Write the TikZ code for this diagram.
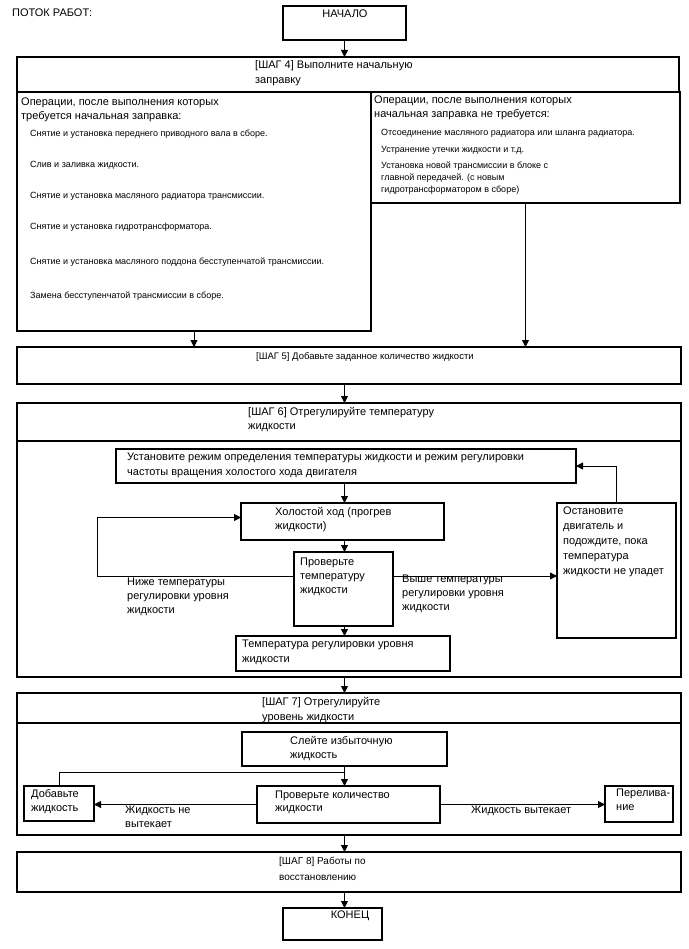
\documentclass[tikz,border=0pt]{standalone}
\usepackage{fontspec}
\setmainfont{Liberation Sans}
\usetikzlibrary{arrows.meta}

\begin{document}
\begin{tikzpicture}[x=1pt,y=-1pt,
    box/.style={draw, line width=1.1pt, inner sep=0pt, outer sep=0pt, anchor=north west},
    txt/.style={anchor=north west, inner sep=0pt, align=left, font=\fontsize{11}{14}\selectfont},
    hdr/.style={txt, font=\fontsize{11}{15}\selectfont},
    item/.style={txt, font=\fontsize{9}{12}\selectfont},
    arr/.style={-{Triangle[length=7pt,width=7pt]}, line width=0.8pt}]
        \useasboundingbox (0,0) rectangle (688,949);

        % Nodes
        \node[txt] (title) at (12,9) {ПОТОК РАБОТ:};
        \node[box, minimum width=123, minimum height=34] (start) at (283,6) {};
        \node[txt, anchor=north] (starttxt) at (345,10) {НАЧАЛО};

        % step 4
        \node[box, minimum width=662, minimum height=35] (s4head) at (17,57) {};
        \node[box, minimum width=354, minimum height=239] (need) at (17,92) {};
        \node[box, minimum width=309, minimum height=111] (noneed) at (371,92) {};
        \node[hdr] (s4txt) at (255,60) {[ШАГ 4] Выполните начальную\\заправку};
        \node[txt, font=\fontsize{11}{13.5}\selectfont] (needtxt) at (21,98)
            {Операции, после выполнения которых\\требуется начальная заправка:};
        \node[txt, font=\fontsize{11}{13.5}\selectfont] (noneedtxt) at (374,96)
            {Операции, после выполнения которых\\начальная заправка не требуется:};
        \foreach \y/\t [count=\i] in {
            130/{Снятие и установка переднего приводного вала в сборе.},
            161/{Слив и заливка жидкости.},
            192/{Снятие и установка масляного радиатора трансмиссии.},
            223/{Снятие и установка гидротрансформатора.},
            258/{Снятие и установка масляного поддона бесступенчатой трансмиссии.},
            292/{Замена бесступенчатой трансмиссии в сборе.}} {
            \node[item] (needitem\i) at (30,\y) {\t};
        }
        \node[item] (noneeditem1) at (381,129) {Отсоединение масляного радиатора или шланга радиатора.};
        \node[item] (noneeditem2) at (381,146) {Устранение утечки жидкости и т.д.};
        \node[item] (noneeditem3) at (381,162)
            {Установка новой трансмиссии в блоке с\\главной передачей. (с новым\\гидротрансформатором в сборе)};

        % step 5
        \node[box, minimum width=664, minimum height=37] (s5) at (17,347) {};
        \node[hdr, font=\fontsize{9.5}{12}\selectfont] (s5txt) at (256,352) {[ШАГ 5] Добавьте заданное количество жидкости};

        % step 6
        \node[box, minimum width=664, minimum height=38] (s6head) at (17,403) {};
        \node[box, minimum width=664, minimum height=236] (s6body) at (17,441) {};
        \node[hdr, font=\fontsize{11}{14}\selectfont] (s6txt) at (248,407)
            {[ШАГ 6] Отрегулируйте температуру\\жидкости};
        \node[box, minimum width=460, minimum height=34] (setup) at (116,449) {};
        \node[box, minimum width=203, minimum height=37] (idle) at (241,503) {};
        \node[box, minimum width=99, minimum height=74] (check) at (294,552) {};
        \node[box, minimum width=214, minimum height=35] (level) at (236,636) {};
        \node[box, minimum width=119, minimum height=135] (stop) at (557,503) {};
        \node[txt, font=\fontsize{11}{15}\selectfont] (setuptxt) at (127,453)
            {Установите режим определения температуры жидкости и режим регулировки\\частоты вращения холостого хода двигателя};
        \node[txt] (idletxt) at (275,507) {Холостой ход (прогрев\\жидкости)};
        \node[txt] (checktxt) at (300,558) {Проверьте\\температуру\\жидкости};
        \node[txt, font=\fontsize{11}{15}\selectfont] (leveltxt) at (242,640)
            {Температура регулировки уровня\\жидкости};
        \node[txt, font=\fontsize{11}{15}\selectfont] (stoptxt) at (563,507)
            {Остановите\\двигатель и\\подождите, пока\\температура\\жидкости не упадет};
        \node[txt] (lowtxt) at (127,578) {Ниже температуры\\регулировки уровня\\жидкости};
        \node[txt] (hightxt) at (402,575) {Выше температуры\\регулировки уровня\\жидкости};

        % step 7
        \node[box, minimum width=664, minimum height=30] (s7head) at (17,693) {};
        \node[box, minimum width=664, minimum height=112] (s7body) at (17,723) {};
        \node[hdr] (s7txt) at (262,697) {[ШАГ 7] Отрегулируйте\\уровень жидкости};
        \node[box, minimum width=205, minimum height=34] (drain) at (242,732) {};
        \node[box, minimum width=183, minimum height=37] (qty) at (257,786) {};
        \node[box, minimum width=70, minimum height=35] (add) at (24,786) {};
        \node[box, minimum width=68, minimum height=36] (over) at (605,786) {};
        \node[txt] (draintxt) at (290,736) {Слейте избыточную\\жидкость};
        \node[txt, font=\fontsize{11}{13}\selectfont] (qtytxt) at (275,791) {Проверьте количество\\жидкости};
        \node[txt] (addtxt) at (31,789) {Добавьте\\жидкость};
        \node[txt] (overtxt) at (616,789) {Перелива-\\ние};
        \node[txt] (notxt) at (125,806) {Жидкость не\\вытекает};
        \node[txt] (yestxt) at (471,806) {Жидкость вытекает};
        \coordinate (split) at (344.5,772);

        % step 8 and end
        \node[box, minimum width=664, minimum height=40] (s8) at (17,852) {};
        \node[hdr, font=\fontsize{10}{16}\selectfont] (s8txt) at (279,857) {[ШАГ 8] Работы по\\восстановлению};
        \node[box, minimum width=99, minimum height=32] (finish) at (283,908) {};
        \node[txt, anchor=north] (finishtxt) at (350,911) {КОНЕЦ};

        % Edges
        \foreach \a/\b in {start/s4head, s5/s6head, s6body/s7head, s7body/s8, s8/finish,
                           setup/idle, idle/check, check/level} {
            \draw[arr] (start.south |- \a.south) -- (start.south |- \b.north);
        }
        \draw[arr] (need.south) -- (need.south |- s5.north);
        \draw[arr] (noneed.south) -- (noneed.south |- s5.north);

        \draw[arr] ([yshift=13pt]check.west) -- ++(-197,0) |- ([yshift=4pt]idle.west);
        \draw[arr] ([yshift=13pt]check.east) -- ([yshift=13pt]check.east -| stop.west);
        \draw[arr] (stop.north) |- (setup.east);

        \draw[arr] (drain.south) -- (drain.south |- qty.north);
        \draw[line width=0.8pt] (split) -| (add.north);
        \draw[arr] (qty.west) -- (qty.west -| add.east);
        \draw[arr] (qty.east) -- (qty.east -| over.west);
    \end{tikzpicture}
\end{document}
